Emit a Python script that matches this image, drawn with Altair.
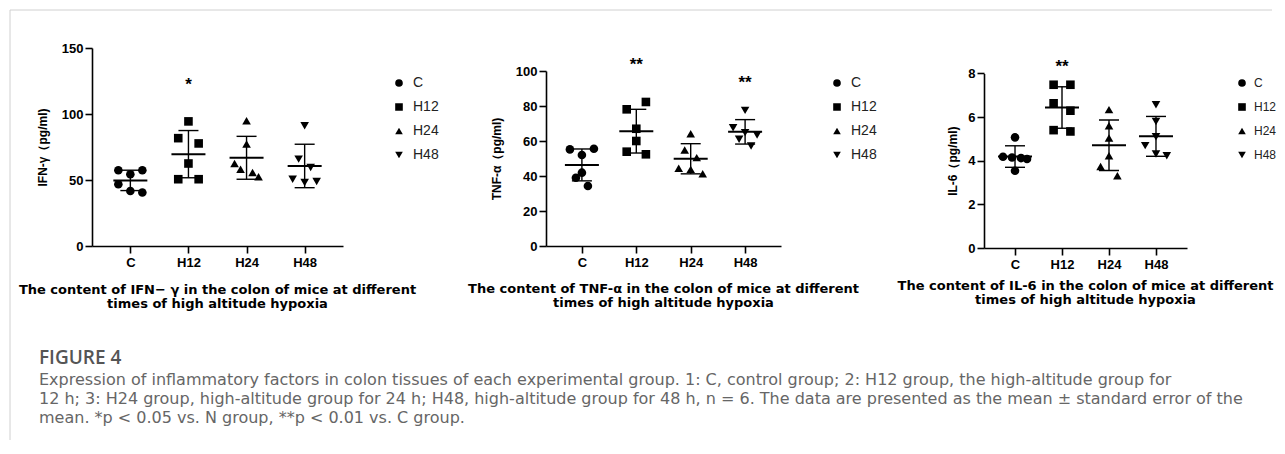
import altair as alt
import pandas as pd

groups = ["C", "H12", "H24", "H48"]
shapes = ["circle", "square", "triangle-up", "triangle-down"]

# IFN-gamma (pg/ml)
ifn_values = {
    "C":   [57.4, 54.4, 57.4, 46.8, 41.7, 40.5],
    "H12": [94.4, 81.7, 77.7, 62.5, 50.6, 50.6],
    "H24": [94.9, 77.2, 62.5, 58.2, 55.7, 52.4],
    "H48": [91.1, 65.8, 59.4, 50.6, 48.1, 48.8],
}
ifn_jitter = {
    "C":   [-2, 0, 2, -2, 0, 2],
    "H12": [0, -1.7, 1.7, 0, -1.7, 1.7],
    "H24": [0, 0, -2, -1, 1, 2],
    "H48": [0, -1, 1, -2, 0, 2],
}
# TNF-alpha (pg/ml)
tnf_values = {
    "C":   [55.2, 55.6, 52.0, 41.9, 39.0, 34.3],
    "H12": [82.3, 78.1, 67.0, 60.0, 53.9, 52.4],
    "H24": [64.2, 54.9, 50.5, 44.4, 43.8, 41.3],
    "H48": [77.5, 67.6, 64.8, 63.4, 61.0, 57.1],
}
tnf_jitter = {
    "C":   [-2, 2, 0, 0, -1, 1],
    "H12": [1.6, -1.6, 0, 0, -1.6, 1.6],
    "H24": [0, -1, 1, -2, 0, 2],
    "H48": [0, -2, 0, 2, -1, 1],
}
# IL-6 (pg/ml)
il6_values = {
    "C":   [5.07, 4.18, 4.15, 4.12, 4.08, 3.54],
    "H12": [7.48, 7.48, 6.63, 6.29, 5.40, 5.34],
    "H24": [6.34, 5.60, 5.04, 4.23, 3.73, 3.31],
    "H48": [6.56, 5.80, 5.10, 4.69, 4.31, 4.23],
}
il6_jitter = {
    "C":   [0, -2, -0.5, 1, 2, 0],
    "H12": [-1.4, 1.4, -1.4, 1.4, -1.4, 1.4],
    "H24": [0, 0, 0, 0, -1.4, 1.4],
    "H48": [0, 0, 0, -1.8, 0, 1.8],
}

ifn_stars = {"group": ["H12"], "y": [122.7], "label": ["*"]}
tnf_stars = {"group": ["H12", "H48"], "y": [103.8, 93.9], "label": ["**", "**"]}
il6_stars = {"group": ["H12"], "y": [8.35], "label": ["**"]}

ifn_ticks = [0, 50, 100, 150]
tnf_ticks = [0, 20, 40, 60, 80, 100]
il6_ticks = [0, 2, 4, 6, 8]

line2 = "times of high altitude hypoxia"
ifn_caption = ["The content of IFN\u2212 \u03b3  in the colon of mice at different", line2]
tnf_caption = ["The content of TNF-\u03b1 in the colon of mice at different", line2]
il6_caption = ["The content of IL-6 in the colon of mice at different", line2]

figure_title = "FIGURE 4"
figure_caption = [
    "Expression of inflammatory factors in colon tissues of each experimental group. 1: C, control group; 2: H12 group, the high-altitude group for",
    "12 h; 3: H24 group, high-altitude group for 24 h; H48, high-altitude group for 48 h, n = 6. The data are presented as the mean \u00b1 standard error of the",
    "mean. *p < 0.05 vs. N group, **p < 0.01 vs. C group.",
]

FONT = "Liberation Sans"
CAPFONT = "DejaVu Sans"


def frame(values, jitters):
    rows = []
    for g in groups:
        for v, j in zip(values[g], jitters[g]):
            rows.append({"group": g, "value": v, "jitter": j})
    return pd.DataFrame(rows)


def panel(df, stars, ytitle, ymax, yticks, width, height, ytop, title_pad,
          caption, cap_offset, legend_x, label_offset, label_size):
    yscale = alt.Scale(domain=[0, ymax], range=[height, ytop], nice=False, zero=True)
    yaxis = alt.Axis(values=yticks, title=ytitle, grid=False, domainColor="black",
                     domainWidth=1.6, tickColor="black", tickWidth=1.6, tickSize=7,
                     labelFont=FONT, labelFontSize=13, labelFontWeight="bold",
                     labelColor="black", labelPadding=2, titleFont=FONT,
                     titleFontSize=12, titleFontWeight="bold", titleColor="black",
                     titlePadding=title_pad)
    xscale = alt.Scale(type="point", domain=groups, padding=0.66)
    xaxis = alt.Axis(title=None, grid=False, domainColor="black", domainWidth=1.6,
                     tickColor="black", tickWidth=1.6, tickSize=7, labelFont=FONT,
                     labelFontSize=13, labelFontWeight="bold", labelColor="black",
                     labelPadding=3, labelAngle=0)
    X = alt.X("group:N", scale=xscale, axis=xaxis)

    def Y(field):
        return alt.Y(field, type="quantitative", scale=yscale, axis=yaxis)

    base = alt.Chart(df)
    pts = base.mark_point(filled=True, size=74, opacity=1, color="black", strokeWidth=0).encode(
        x=X,
        xOffset=alt.XOffset("jitter:Q", scale=alt.Scale(domain=[-2, 2], range=[-12, 12])),
        y=Y("value"),
        shape=alt.Shape("group:N", scale=alt.Scale(domain=groups, range=shapes),
                        legend=alt.Legend(title=None, orient="none", legendX=legend_x,
                                          legendY=28, symbolSize=58,
                                          symbolFillColor="black", symbolStrokeColor="black",
                                          symbolStrokeWidth=0, labelFont=FONT,
                                          labelFontSize=label_size, labelColor="#222222",
                                          labelOffset=label_offset, rowPadding=10,
                                          clipHeight=14, padding=0)),
    )
    agg = base.transform_aggregate(
        m="mean(value)", sd="stdev(value)", groupby=["group"]
    ).transform_calculate(lo="datum.m - datum.sd", hi="datum.m + datum.sd")
    bar = agg.mark_rule(color="black", strokeWidth=1.4).encode(x=X, y=Y("lo"), y2="hi:Q")
    cap_lo = agg.mark_tick(color="black", thickness=1.4, size=20, orient="horizontal",
                           opacity=1).encode(x=X, y=Y("lo"))
    cap_hi = agg.mark_tick(color="black", thickness=1.4, size=20, orient="horizontal",
                           opacity=1).encode(x=X, y=Y("hi"))
    mean = agg.mark_tick(color="black", thickness=2, size=34, orient="horizontal",
                         opacity=1).encode(x=X, y=Y("m"))
    st = alt.Chart(pd.DataFrame(stars)).mark_text(
        font=FONT, fontSize=17, fontWeight="bold", color="black", baseline="middle", dy=1
    ).encode(x=X, y=Y("y"), text="label:N")
    return alt.layer(pts, bar, cap_lo, cap_hi, mean, st).properties(
        width=width, height=height,
        title=alt.TitleParams(text=caption, orient="bottom", frame="group", anchor="middle",
                              offset=cap_offset, font=CAPFONT, fontSize=13,
                              fontWeight="bold", color="black", lineHeight=14),
    )


p1 = panel(frame(ifn_values, ifn_jitter), ifn_stars, "IFN-\u03b3\uff08pg/ml)", 150, ifn_ticks,
           251, 198, 0, 12, ifn_caption, 15, 300, 7, 14)
p2 = panel(frame(tnf_values, tnf_jitter), tnf_stars, "TNF-\u03b1\uff08pg/ml)", 100, tnf_ticks,
           235, 198, 23, 12, tnf_caption, 14, 284, 7, 14)
p3 = panel(frame(il6_values, il6_jitter), il6_stars, "IL-6\uff08pg/ml)", 8, il6_ticks,
           203, 200, 25.4, 8, il6_caption, 9, 252, 6, 12)

row = alt.hconcat(p1, p2, p3, spacing=203, bounds="flush").resolve_scale(
    shape="independent").resolve_legend(shape="independent")

cap = alt.Chart(pd.DataFrame({"t": [""]})).mark_text().encode(text="t:N").properties(
    width=1150, height=1,
    title=alt.TitleParams(text=figure_title, subtitle=figure_caption, orient="bottom",
                          anchor="start", frame="group", dx=-53, offset=3,
                          font="Open Sans", fontSize=19, fontWeight=600, color="#555555",
                          subtitleFont="DejaVu Sans", subtitleFontSize=16,
                          subtitleColor="#666666", subtitleLineHeight=19,
                          subtitlePadding=4),
)

# light grey frame of the figure (top and left edges)
border_df = pd.DataFrame({"k": [0]})
top_border = alt.Chart(border_df).mark_rule(color="#d0d0d0", strokeWidth=1).encode(
    x=alt.value(-82), x2=alt.value(1180), y=alt.value(0))
left_border = alt.Chart(border_df).mark_rule(color="#d0d0d0", strokeWidth=1).encode(
    x=alt.value(-82), y=alt.value(0), y2=alt.value(430))
borders = alt.layer(top_border, left_border).properties(width=1, height=1)

body = alt.vconcat(row, cap, spacing=292, bounds="flush")

chart = alt.vconcat(borders, body, spacing=37, bounds="flush").properties(
    padding={"left": 1, "top": 1, "right": 0, "bottom": 0}, background="white"
).configure_view(stroke=None)

chart.save("out.html", embed_options={"renderer": "svg", "actions": False})
